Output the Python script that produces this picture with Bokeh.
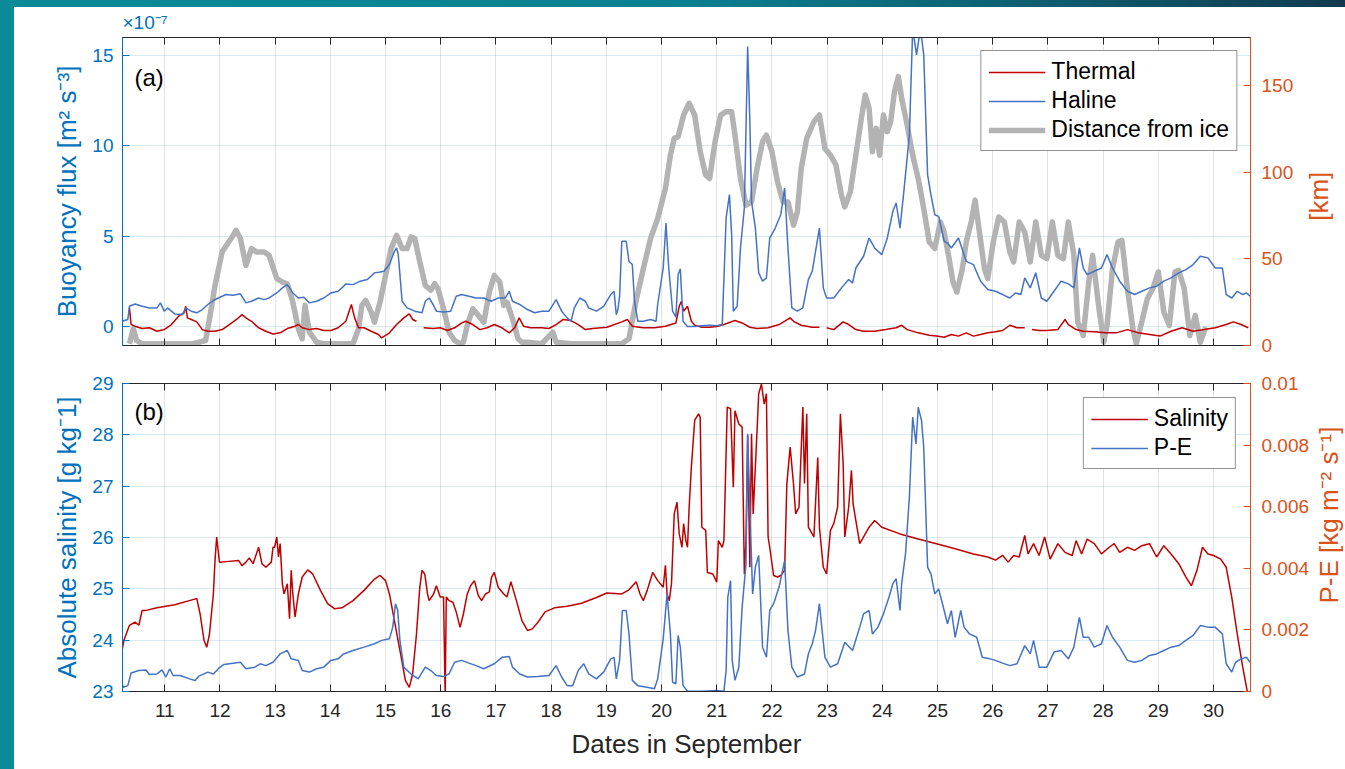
import math
import numpy as np
from bokeh.plotting import figure
from bokeh.models import (Range1d, LinearAxis, FixedTicker, Legend, LegendItem, Label, Title,
                          GlobalInlineStyleSheet, CustomLabelingPolicy)
from bokeh.core.properties import value
from bokeh.layouts import column, row
from bokeh.embed import file_html
from bokeh.resources import INLINE

NaN = float("nan")

# ---------------- data ----------------
# day of September, buoyancy flux in units of 1e-7 m^2 s^-3
thermal = [(10.36, 1.03), (10.39, 0.11), (10.46, 0.02), (10.59, -0.11), (10.72, -0.07), (10.86, -0.26),
           (10.99, -0.17), (11.12, 0.11), (11.25, 0.57), (11.35, 0.76), (11.38, 1.12), (11.41, 0.48),
           (11.48, 0.39), (11.58, 0.26), (11.68, -0.17), (11.78, -0.26), (11.91, -0.26), (12.04, -0.17),
           (12.17, 0.11), (12.30, 0.39), (12.40, 0.66), (12.47, 0.48), (12.57, 0.29), (12.70, -0.07),
           (12.83, -0.26), (12.96, -0.41), (13.09, -0.35), (13.22, -0.11), (13.36, 0.02), (13.42, 0.11),
           (13.49, -0.07), (13.62, -0.17), (13.75, -0.11), (13.88, -0.22), (14.01, -0.22), (14.14, -0.07),
           (14.28, 0.29), (14.38, 1.22), (14.44, 0.48), (14.51, -0.07), (14.61, -0.07), (14.74, -0.26),
           (14.87, -0.44), (14.93, -0.63), (15.07, -0.35), (15.20, 0.11), (15.33, 0.48), (15.43, 0.70),
           (15.49, 0.39), (15.56, 0.29), (15.62, NaN), (15.69, -0.07), (15.86, -0.11), (15.99, -0.07),
           (16.12, -0.22), (16.25, -0.07), (16.38, 0.20), (16.45, 0.29), (16.58, 0.11), (16.71, -0.17),
           (16.84, -0.07), (16.97, 0.11), (17.11, -0.07), (17.24, -0.35), (17.34, -0.07), (17.42, 0.48),
           (17.50, 0.02), (17.63, -0.07), (17.83, -0.07), (17.96, -0.11), (18.09, 0.11), (18.22, 0.39),
           (18.36, 0.33), (18.49, 0.11), (18.62, -0.17), (18.75, -0.11), (19.01, -0.04), (19.28, 0.26),
           (19.38, 0.39), (19.47, 0.02), (19.67, -0.07), (19.87, -0.07), (20.07, 0.02), (20.26, 0.20),
           (20.32, 1.12), (20.36, 1.40), (20.40, 0.85), (20.47, 1.12), (20.54, 0.29), (20.60, 0.07),
           (20.73, -0.04), (20.87, -0.04), (21.00, 0.0), (21.13, 0.11), (21.33, 0.33), (21.46, 0.20),
           (21.60, -0.04), (21.73, -0.11), (21.93, -0.07), (22.13, 0.11), (22.33, 0.48), (22.39, 0.29),
           (22.53, 0.07), (22.73, -0.04), (22.86, -0.04), (22.92, NaN), (22.99, -0.07), (23.12, -0.17),
           (23.29, 0.26), (23.39, 0.11), (23.52, -0.17), (23.66, -0.26), (23.86, -0.26), (24.06, -0.17),
           (24.25, -0.07), (24.35, 0.07), (24.45, -0.17), (24.65, -0.35), (24.85, -0.48), (24.98, -0.53),
           (25.12, -0.59), (25.25, -0.44), (25.38, -0.53), (25.52, -0.35), (25.65, -0.53), (25.78, -0.44),
           (25.91, -0.35), (26.05, -0.29), (26.18, -0.22), (26.31, 0.07), (26.44, -0.07), (26.58, -0.07),
           (26.64, NaN), (26.71, -0.17), (26.84, -0.22), (26.98, -0.22), (27.18, -0.17), (27.31, 0.39),
           (27.37, 0.11), (27.51, -0.17), (27.64, -0.26), (27.84, -0.29), (28.04, -0.35), (28.24, -0.35),
           (28.44, -0.17), (28.64, -0.35), (28.84, -0.44), (29.03, -0.53), (29.23, -0.26), (29.43, -0.07),
           (29.63, -0.26), (29.83, -0.17), (30.03, -0.07), (30.23, 0.11), (30.36, 0.26), (30.50, 0.11),
           (30.63, -0.07)]

haline = [(10.23, 0.29), (10.33, 0.39), (10.36, 1.12), (10.46, 1.25), (10.59, 1.12), (10.72, 1.03),
          (10.86, 1.03), (10.92, 1.31), (10.99, 0.85), (11.05, 1.03), (11.12, 0.85), (11.18, 0.70),
          (11.32, 0.66), (11.38, 1.03), (11.48, 0.85), (11.58, 0.76), (11.68, 0.94), (11.78, 1.22),
          (11.88, 1.44), (11.97, 1.58), (12.11, 1.77), (12.24, 1.73), (12.37, 1.81), (12.47, 1.31),
          (12.57, 1.40), (12.70, 1.58), (12.80, 1.49), (12.89, 1.58), (13.03, 1.86), (13.13, 2.14),
          (13.22, 2.32), (13.32, 1.86), (13.42, 1.58), (13.52, 1.62), (13.62, 1.31), (13.75, 1.40),
          (13.88, 1.58), (14.01, 1.86), (14.14, 1.95), (14.21, 2.14), (14.28, 2.36), (14.41, 2.32),
          (14.54, 2.51), (14.67, 2.60), (14.80, 2.97), (14.90, 3.02), (14.97, 3.06), (15.07, 3.43),
          (15.16, 4.16), (15.20, 4.35), (15.23, 3.98), (15.26, 2.87), (15.30, 1.40), (15.39, 1.03),
          (15.53, 0.85), (15.66, 0.76), (15.72, 1.40), (15.79, 1.58), (15.86, 1.22), (15.92, 0.85),
          (16.05, 0.81), (16.18, 0.85), (16.28, 1.68), (16.38, 1.77), (16.51, 1.68), (16.64, 1.58),
          (16.78, 1.58), (16.91, 1.40), (17.04, 1.58), (17.17, 1.58), (17.24, 1.95), (17.30, 1.40),
          (17.43, 1.22), (17.57, 0.94), (17.70, 0.76), (17.83, 0.85), (17.96, 0.85), (18.09, 1.49),
          (18.19, 0.85), (18.29, 0.48), (18.36, 0.29), (18.42, 1.03), (18.52, 1.58), (18.62, 1.40),
          (18.68, 1.03), (18.82, 0.85), (18.95, 1.12), (19.08, 1.77), (19.14, 1.95), (19.18, 0.66),
          (19.21, 0.94), (19.24, 1.68), (19.28, 4.72), (19.36, 4.72), (19.41, 3.61), (19.47, 3.43),
          (19.51, 1.40), (19.57, 0.29), (19.67, 0.29), (19.80, 0.39), (19.90, 0.29), (19.93, 1.22),
          (20.03, 3.24), (20.08, 5.73), (20.13, 3.24), (20.20, 0.85), (20.26, 0.52), (20.30, 2.87),
          (20.34, 3.20), (20.39, 0.29), (20.47, 0.0), (20.60, 0.0), (20.73, 0.04), (20.87, 0.07),
          (21.00, 0.04), (21.10, 0.11), (21.17, 6.01), (21.23, 7.30), (21.27, 5.09), (21.30, 0.85),
          (21.37, 1.12), (21.43, 4.35), (21.50, 6.56), (21.53, 10.98), (21.56, 15.50), (21.60, 11.35),
          (21.63, 6.93), (21.70, 5.45), (21.76, 2.97), (21.83, 2.51), (21.90, 2.69), (21.96, 4.90),
          (22.06, 5.45), (22.16, 6.19), (22.23, 7.67), (22.29, 4.35), (22.36, 1.03), (22.46, 0.85),
          (22.56, 1.03), (22.66, 2.60), (22.73, 3.06), (22.79, 4.16), (22.86, 5.45), (22.93, 2.14),
          (22.99, 1.58), (23.12, 1.58), (23.26, 2.14), (23.39, 2.60), (23.46, 2.41), (23.52, 3.24),
          (23.66, 3.89), (23.76, 4.90), (23.86, 4.35), (23.99, 3.98), (24.09, 4.90), (24.19, 6.38),
          (24.25, 6.84), (24.32, 5.45), (24.39, 7.48), (24.49, 10.61), (24.55, 16.5), (24.62, 15.04),
          (24.69, 16.5), (24.75, 15.04), (24.82, 8.40), (24.88, 7.30), (24.95, 6.19), (25.02, 6.10),
          (25.12, 4.72), (25.18, 4.62), (25.25, 4.35), (25.38, 4.90), (25.52, 3.61), (25.65, 3.43),
          (25.78, 2.51), (25.91, 2.05), (26.05, 1.95), (26.18, 1.77), (26.31, 1.58), (26.41, 1.86),
          (26.51, 1.77), (26.58, 2.69), (26.68, 2.14), (26.78, 2.97), (26.88, 1.58), (26.98, 1.40),
          (27.11, 1.95), (27.24, 2.51), (27.37, 2.36), (27.47, 2.14), (27.57, 4.35), (27.64, 3.24),
          (27.71, 2.87), (27.84, 3.06), (27.97, 3.24), (28.07, 3.98), (28.17, 3.24), (28.30, 2.51),
          (28.44, 1.95), (28.57, 1.77), (28.70, 1.95), (28.84, 2.14), (28.97, 2.23), (29.10, 2.51),
          (29.23, 2.69), (29.37, 2.97), (29.50, 3.15), (29.63, 3.43), (29.76, 3.89), (29.90, 3.80),
          (30.03, 3.24), (30.16, 3.24), (30.23, 1.77), (30.33, 1.58), (30.43, 1.95), (30.53, 1.77),
          (30.60, 1.86), (30.66, 1.68)]

# distance from the ice edge [km]
distance = [(10.36, 1.0), (10.43, 9.7), (10.49, 2.9), (10.59, 1.0), (10.86, 1.0), (11.18, 1.0), (11.51, 1.0),
            (11.74, 2.9), (11.81, 15.4), (11.91, 34.7), (12.04, 54.1), (12.14, 58.9), (12.24, 63.7),
            (12.29, 66.6), (12.37, 61.8), (12.47, 46.3), (12.57, 56.0), (12.66, 54.1), (12.80, 54.1),
            (12.89, 52.1), (13.03, 38.6), (13.13, 36.7), (13.22, 35.7), (13.32, 25.1), (13.42, 9.7),
            (13.49, 3.9), (13.54, 23.2), (13.62, 7.7), (13.75, 1.9), (13.88, 1.0), (14.14, 1.0), (14.41, 1.0),
            (14.51, 9.7), (14.57, 23.2), (14.64, 26.1), (14.74, 19.3), (14.80, 13.5), (14.90, 25.1),
            (15.00, 40.5), (15.10, 56.0), (15.20, 63.7), (15.30, 56.0), (15.39, 56.0), (15.46, 62.7),
            (15.53, 61.8), (15.62, 48.3), (15.72, 34.7), (15.82, 31.9), (15.89, 35.7), (15.95, 32.8),
            (16.05, 21.2), (16.15, 7.7), (16.25, 2.9), (16.35, 1.0), (16.41, 1.9), (16.48, 11.6),
            (16.58, 21.2), (16.68, 17.4), (16.78, 13.5), (16.88, 30.9), (16.97, 40.5), (17.07, 36.7),
            (17.14, 23.2), (17.20, 25.1), (17.30, 15.4), (17.40, 3.9), (17.47, 1.9), (17.57, 1.9),
            (17.83, 1.0), (18.03, 7.7), (18.09, 1.9), (18.36, 1.0), (18.75, 1.0), (19.01, 1.0), (19.28, 1.0),
            (19.41, 3.9), (19.54, 26.1), (19.67, 44.4), (19.80, 61.8), (19.93, 73.4), (20.07, 90.7),
            (20.16, 110.0), (20.23, 119.7), (20.30, 120.7), (20.40, 133.2), (20.50, 140.0), (20.60, 133.2),
            (20.70, 112.0), (20.80, 98.5), (20.87, 96.5), (20.97, 117.8), (21.07, 133.2), (21.17, 135.1),
            (21.27, 135.1), (21.33, 121.6), (21.43, 96.5), (21.53, 81.1), (21.63, 83.0), (21.73, 102.3),
            (21.83, 117.8), (21.90, 121.6), (22.00, 112.0), (22.10, 94.6), (22.20, 83.0), (22.29, 83.0),
            (22.39, 69.5), (22.46, 77.2), (22.53, 102.3), (22.63, 119.7), (22.76, 129.3), (22.86, 133.2),
            (22.96, 113.9), (23.06, 110.0), (23.16, 104.2), (23.26, 86.9), (23.32, 80.1), (23.42, 88.8),
            (23.52, 110.0), (23.62, 131.3), (23.69, 144.8), (23.76, 137.1), (23.82, 112.0), (23.89, 125.5),
            (23.95, 110.0), (24.02, 133.2), (24.09, 123.6), (24.15, 129.3), (24.22, 146.7), (24.29, 155.4),
            (24.35, 142.9), (24.45, 127.4), (24.55, 110.0), (24.65, 96.5), (24.75, 79.2), (24.85, 59.8),
            (24.95, 56.0), (25.05, 71.4), (25.12, 65.6), (25.22, 48.3), (25.28, 36.7), (25.35, 30.9),
            (25.45, 44.4), (25.52, 59.8), (25.61, 71.4), (25.68, 84.0), (25.75, 67.6), (25.85, 44.4),
            (25.91, 38.6), (26.01, 59.8), (26.11, 74.3), (26.21, 71.4), (26.31, 54.1), (26.38, 48.3),
            (26.48, 71.4), (26.58, 65.6), (26.68, 48.3), (26.78, 71.4), (26.88, 52.1), (26.98, 50.2),
            (27.08, 71.4), (27.18, 52.1), (27.28, 50.2), (27.37, 71.4), (27.47, 52.1), (27.54, 13.5),
            (27.64, 5.8), (27.74, 36.7), (27.81, 52.1), (27.91, 25.1), (28.01, 1.9), (28.07, 11.6),
            (28.17, 44.4), (28.27, 59.8), (28.34, 60.8), (28.44, 32.8), (28.54, 9.7), (28.60, 1.0),
            (28.70, 13.5), (28.80, 27.0), (28.90, 32.8), (29.00, 42.5), (29.10, 19.3), (29.20, 11.6),
            (29.30, 42.5), (29.37, 43.4), (29.47, 32.8), (29.57, 5.8), (29.67, 17.4), (29.76, 1.9),
            (29.86, 10.6)]

# absolute salinity [g kg^-1]
salinity = [(10.20, 23.64), (10.26, 24.0), (10.36, 24.29), (10.46, 24.35), (10.53, 24.29), (10.59, 24.58),
            (10.66, 24.58), (10.86, 24.63), (11.18, 24.69), (11.51, 24.79), (11.58, 24.81), (11.64, 24.51),
            (11.71, 24.0), (11.76, 23.86), (11.81, 24.12), (11.88, 24.90), (11.91, 25.55), (11.94, 26.01),
            (11.99, 25.52), (12.11, 25.53), (12.34, 25.55), (12.40, 25.45), (12.47, 25.52), (12.53, 25.60),
            (12.60, 25.49), (12.70, 25.81), (12.76, 25.49), (12.83, 25.42), (12.93, 25.52), (12.96, 25.81),
            (12.99, 25.81), (13.03, 26.01), (13.06, 25.62), (13.09, 25.88), (13.13, 25.10), (13.16, 24.90),
            (13.22, 25.10), (13.26, 24.42), (13.29, 25.36), (13.32, 24.90), (13.36, 24.45), (13.42, 24.90),
            (13.49, 25.23), (13.59, 25.37), (13.68, 25.29), (13.82, 24.97), (13.95, 24.71), (14.08, 24.61),
            (14.21, 24.63), (14.41, 24.77), (14.61, 24.97), (14.80, 25.19), (14.90, 25.26), (15.00, 25.16),
            (15.07, 24.90), (15.16, 24.38), (15.26, 23.80), (15.36, 23.21), (15.43, 23.08), (15.49, 23.34),
            (15.56, 24.12), (15.62, 25.03), (15.66, 25.36), (15.71, 25.29), (15.76, 24.90), (15.79, 24.77),
            (15.87, 24.90), (15.92, 25.06), (15.99, 24.84), (16.05, 24.84), (16.08, 22.9), (16.10, 24.84),
            (16.15, 24.77), (16.22, 24.74), (16.28, 24.55), (16.35, 24.25), (16.41, 24.51), (16.48, 24.90),
            (16.54, 25.06), (16.61, 25.16), (16.68, 24.87), (16.74, 24.77), (16.81, 24.90), (16.88, 24.94),
            (16.92, 25.23), (16.97, 25.32), (17.04, 25.03), (17.14, 24.90), (17.20, 24.84), (17.27, 25.14),
            (17.37, 24.77), (17.47, 24.38), (17.57, 24.19), (17.66, 24.22), (17.76, 24.35), (17.89, 24.55),
            (18.06, 24.63), (18.29, 24.66), (18.55, 24.72), (18.82, 24.83), (19.01, 24.92), (19.28, 24.90),
            (19.41, 24.98), (19.54, 25.14), (19.61, 24.90), (19.67, 24.77), (19.74, 24.97), (19.84, 25.32),
            (19.93, 25.16), (20.03, 25.03), (20.07, 25.46), (20.10, 24.90), (20.14, 24.77), (20.18, 25.10),
            (20.23, 26.46), (20.28, 26.69), (20.32, 26.07), (20.37, 25.81), (20.40, 26.27), (20.44, 25.94),
            (20.47, 25.81), (20.50, 26.59), (20.54, 27.37), (20.60, 28.28), (20.67, 28.41), (20.70, 28.34),
            (20.73, 26.20), (20.80, 26.14), (20.83, 25.32), (20.93, 25.29), (21.00, 25.13), (21.03, 25.94),
            (21.10, 25.81), (21.13, 25.94), (21.19, 28.54), (21.25, 28.51), (21.30, 26.98), (21.33, 28.47),
            (21.40, 28.21), (21.46, 28.15), (21.50, 25.29), (21.53, 25.94), (21.56, 27.99), (21.60, 25.42),
            (21.63, 28.02), (21.66, 26.46), (21.73, 28.08), (21.76, 28.80), (21.81, 28.99), (21.86, 28.60),
            (21.90, 28.80), (21.93, 26.01), (21.96, 25.81), (22.03, 25.26), (22.10, 25.23), (22.16, 25.26),
            (22.23, 25.36), (22.27, 27.05), (22.33, 27.76), (22.39, 27.05), (22.43, 26.46), (22.49, 26.59),
            (22.56, 28.54), (22.59, 27.05), (22.63, 28.41), (22.66, 26.20), (22.76, 26.01), (22.83, 27.56),
            (22.86, 26.20), (22.93, 25.42), (22.99, 25.29), (23.06, 26.14), (23.12, 26.27), (23.19, 26.59),
            (23.24, 28.41), (23.29, 27.44), (23.32, 26.01), (23.39, 26.59), (23.44, 27.31), (23.47, 26.66),
            (23.52, 26.33), (23.59, 25.88), (23.66, 26.01), (23.76, 26.20), (23.86, 26.33), (23.99, 26.20),
            (24.32, 26.07), (24.65, 25.97), (24.98, 25.88), (25.32, 25.78), (25.65, 25.68), (25.91, 25.62),
            (26.05, 25.56), (26.18, 25.65), (26.28, 25.52), (26.38, 25.65), (26.48, 25.62), (26.58, 26.04),
            (26.64, 25.68), (26.74, 25.88), (26.84, 25.65), (26.94, 26.01), (27.04, 25.58), (27.18, 25.88),
            (27.31, 25.71), (27.44, 25.65), (27.51, 25.94), (27.61, 25.68), (27.71, 25.97), (27.84, 25.88),
            (27.97, 25.68), (28.11, 25.81), (28.20, 25.88), (28.30, 25.71), (28.44, 25.81), (28.57, 25.75),
            (28.70, 25.84), (28.84, 25.88), (28.97, 25.62), (29.10, 25.84), (29.23, 25.68), (29.37, 25.49),
            (29.50, 25.23), (29.60, 25.06), (29.70, 25.36), (29.80, 25.81), (29.90, 25.68), (30.00, 25.65),
            (30.13, 25.58), (30.23, 25.42), (30.33, 24.84), (30.43, 24.12), (30.53, 23.47), (30.62, 22.95)]

# P-E in units of 1e-3 kg m^-2 s^-1
p_minus_e = [(10.20, 0.36), (10.25, 0.14), (10.33, 0.19), (10.39, 0.60), (10.53, 0.68), (10.66, 0.70),
             (10.72, 0.55), (10.86, 0.57), (10.95, 0.70), (11.02, 0.47), (11.09, 0.74), (11.15, 0.52),
             (11.28, 0.52), (11.45, 0.41), (11.55, 0.36), (11.61, 0.49), (11.78, 0.63), (11.88, 0.57),
             (11.97, 0.74), (12.07, 0.88), (12.24, 0.92), (12.37, 0.95), (12.47, 0.74), (12.63, 0.79),
             (12.73, 0.90), (12.83, 0.84), (12.96, 0.95), (13.09, 1.22), (13.22, 1.33), (13.29, 1.06),
             (13.42, 1.01), (13.49, 0.68), (13.62, 0.63), (13.75, 0.74), (13.88, 0.79), (14.01, 1.01),
             (14.14, 1.06), (14.24, 1.22), (14.41, 1.33), (14.61, 1.44), (14.80, 1.55), (14.93, 1.66),
             (15.07, 1.71), (15.13, 2.09), (15.18, 2.85), (15.22, 2.63), (15.26, 1.66), (15.33, 0.79),
             (15.46, 0.57), (15.59, 0.41), (15.72, 0.79), (15.82, 0.68), (15.92, 0.52), (16.05, 0.49),
             (16.15, 0.57), (16.25, 0.95), (16.38, 1.01), (16.51, 0.92), (16.64, 0.84), (16.78, 0.74),
             (16.97, 0.90), (17.11, 1.11), (17.24, 1.14), (17.30, 0.79), (17.43, 0.57), (17.57, 0.47),
             (17.76, 0.49), (17.96, 0.52), (18.09, 0.84), (18.19, 0.47), (18.29, 0.19), (18.39, 0.19),
             (18.49, 0.68), (18.59, 0.90), (18.68, 0.57), (18.82, 0.41), (18.95, 0.63), (19.08, 1.06),
             (19.14, 1.11), (19.18, 0.41), (19.24, 1.01), (19.29, 2.63), (19.36, 2.63), (19.41, 1.87),
             (19.47, 0.36), (19.57, 0.19), (19.74, 0.14), (19.87, 0.09), (19.93, 0.41), (20.03, 1.71),
             (20.10, 3.17), (20.16, 1.87), (20.20, 0.30), (20.26, 0.25), (20.30, 1.82), (20.34, 1.44),
             (20.39, 0.19), (20.47, 0.01), (20.73, 0.01), (21.00, 0.03), (21.13, 0.01), (21.17, 0.68),
             (21.20, 3.06), (21.25, 3.60), (21.28, 1.01), (21.33, 0.36), (21.40, 0.79), (21.46, 2.74),
             (21.53, 4.15), (21.56, 8.37), (21.60, 5.99), (21.65, 3.17), (21.70, 4.04), (21.76, 4.42),
             (21.83, 1.44), (21.90, 1.11), (21.96, 2.63), (22.03, 2.85), (22.13, 3.39), (22.23, 4.25),
             (22.29, 1.98), (22.36, 0.79), (22.46, 0.47), (22.59, 0.57), (22.66, 1.22), (22.73, 1.55),
             (22.79, 1.98), (22.86, 2.85), (22.89, 2.31), (22.96, 1.11), (23.06, 0.79), (23.19, 0.90),
             (23.32, 1.60), (23.46, 1.33), (23.59, 2.09), (23.66, 2.52), (23.76, 2.63), (23.82, 1.87),
             (23.92, 2.09), (24.02, 2.52), (24.12, 3.06), (24.19, 3.50), (24.25, 3.66), (24.32, 2.63),
             (24.35, 3.50), (24.42, 4.47), (24.49, 6.31), (24.55, 8.91), (24.61, 8.04), (24.65, 9.23),
             (24.71, 8.80), (24.75, 7.93), (24.82, 4.04), (24.88, 3.82), (24.95, 3.17), (25.02, 3.33),
             (25.12, 2.63), (25.18, 2.20), (25.25, 2.63), (25.32, 1.76), (25.42, 2.63), (25.48, 2.09),
             (25.58, 1.87), (25.71, 1.76), (25.81, 1.11), (25.95, 1.06), (26.05, 1.01), (26.18, 0.92),
             (26.31, 0.84), (26.44, 0.90), (26.58, 1.49), (26.68, 1.22), (26.74, 1.66), (26.84, 0.79),
             (26.98, 0.79), (27.11, 1.28), (27.24, 1.33), (27.37, 1.06), (27.47, 1.44), (27.57, 2.41),
             (27.64, 1.76), (27.74, 1.76), (27.84, 1.44), (27.97, 1.55), (28.07, 2.14), (28.17, 1.76),
             (28.30, 1.44), (28.44, 1.01), (28.57, 0.95), (28.70, 1.01), (28.84, 1.17), (28.97, 1.22),
             (29.10, 1.33), (29.23, 1.44), (29.37, 1.49), (29.50, 1.66), (29.63, 1.82), (29.76, 2.14),
             (29.90, 2.09), (30.03, 2.09), (30.16, 1.87), (30.23, 0.90), (30.33, 0.63), (30.40, 0.95),
             (30.50, 1.06), (30.60, 1.11), (30.66, 0.95)]

day_ticks = list(range(11, 31))
buoy_ticks = [0, 5, 10, 15]
km_ticks = [0, 50, 100, 150]
sal_ticks = [23, 24, 25, 26, 27, 28, 29]
pe_ticks = [0, 0.002, 0.004, 0.006, 0.008, 0.01]
pe_tick_labels = {0: "0", 0.002: "0.002", 0.004: "0.004", 0.006: "0.006", 0.008: "0.008", 0.01: "0.01"}
right_label_a = "[km]"
right_label_b = "P-E [kg m⁻² s⁻¹]"

# ---------------- styling ----------------
FONT = "Liberation Sans"
AX_BLUE = "#0072BD"
AX_ORANGE = "#D95319"
DARK = "#262626"
RED = "#C00000"
LBLUE = "#4472C4"
GRAY = "#B3B3B3"
TICK_FS = "19px"
LABEL_FS = "26px"

NO_LABELS = CustomLabelingPolicy(code="""
    for (const i of Array.from(indices)) { indices.unset(i) }
    return indices
""")


def split(pairs):
    xs = [a for a, b in pairs]
    ys = [b for a, b in pairs]
    return xs, ys


x_range = Range1d(10.234, 30.67)
LEFT_B = 108
FRAME_W = 1128


def make_fig(width, height, top, bottom, yr, show_x_labels):
    p = figure(width=width, height=height, x_range=x_range, y_range=yr,
               output_backend="svg", toolbar_location=None,
               min_border_left=LEFT_B, min_border_right=width - LEFT_B - FRAME_W,
               min_border_top=top, min_border_bottom=bottom)
    p.background_fill_color = "white"
    p.border_fill_color = "white"
    p.outline_line_color = DARK
    p.outline_line_width = 1
    p.xgrid.ticker = FixedTicker(ticks=day_ticks)
    p.xgrid.grid_line_color = DARK
    p.xgrid.grid_line_alpha = 0.13
    p.ygrid.grid_line_color = AX_BLUE
    p.ygrid.grid_line_alpha = 0.15
    xa = p.below[0]
    xa.ticker = FixedTicker(ticks=day_ticks)
    xa.major_tick_in = 7
    xa.major_tick_out = 0
    xa.minor_tick_line_color = None
    xa.axis_line_color = DARK
    xa.major_tick_line_color = DARK
    xa.major_label_text_color = DARK
    xa.major_label_text_font = FONT
    xa.major_label_text_font_size = TICK_FS
    xa.major_label_standoff = 12
    if not show_x_labels:
        xa.major_label_policy = NO_LABELS
        xa.major_label_text_font_size = "1px"
        xa.major_label_standoff = 0
    top_ax = LinearAxis(ticker=FixedTicker(ticks=day_ticks), major_tick_in=7, major_tick_out=0,
                        minor_tick_line_color=None, axis_line_color=DARK, major_tick_line_color=DARK,
                        major_label_policy=NO_LABELS, major_label_text_font_size="1px",
                        major_label_standoff=0)
    p.add_layout(top_ax, "above")
    ya = p.left[0]
    ya.major_tick_in = 7
    ya.major_tick_out = 0
    ya.minor_tick_line_color = None
    ya.axis_line_color = AX_BLUE
    ya.major_tick_line_color = AX_BLUE
    ya.major_label_text_color = AX_BLUE
    ya.major_label_text_font = FONT
    ya.major_label_text_font_size = TICK_FS
    ya.major_label_standoff = 9
    ya.axis_label_text_color = AX_BLUE
    ya.axis_label_text_font = FONT
    ya.axis_label_text_font_size = LABEL_FS
    ya.axis_label_text_font_style = "normal"
    ya.axis_label_standoff = 7
    return p, xa, ya


def right_axis(p, name, ticks, overrides=None):
    ax = LinearAxis(y_range_name=name, ticker=FixedTicker(ticks=ticks),
                    major_tick_in=7, major_tick_out=0, minor_tick_line_color=None,
                    axis_line_color=AX_ORANGE, major_tick_line_color=AX_ORANGE,
                    major_label_text_color=AX_ORANGE, major_label_text_font=FONT,
                    major_label_text_font_size=TICK_FS, major_label_standoff=11)
    if overrides:
        ax.major_label_overrides = overrides
    p.add_layout(ax, "right")
    return ax


def label_fig(width, height, text, xpos, ypos):
    # narrow strip holding the right-hand axis title, reading bottom to top
    q = figure(width=width, height=height, x_range=Range1d(0, 1), y_range=Range1d(0, 1),
               output_backend="svg", toolbar_location=None,
               x_axis_location=None, y_axis_location=None,
               min_border_left=0, min_border_right=0, min_border_top=0, min_border_bottom=0)
    q.grid.visible = False
    q.outline_line_color = None
    q.background_fill_color = "white"
    q.border_fill_color = "white"
    q.text(x=[xpos], y=[ypos], text=[text], angle=math.pi / 2, text_align="center",
           text_baseline="middle", text_color=AX_ORANGE, text_font=value(FONT),
           text_font_size=LABEL_FS)
    return q


def style_legend(lg, margin):
    lg.location = "top_right"
    lg.margin = margin
    lg.border_line_color = DARK
    lg.border_line_width = 1
    lg.background_fill_color = "white"
    lg.background_fill_alpha = 1.0
    lg.label_text_font = FONT
    lg.label_text_font_size = "23px"
    lg.label_text_color = "black"
    lg.glyph_width = 57
    lg.glyph_height = 26
    lg.label_height = 26
    lg.label_standoff = 6
    lg.padding = 7
    lg.spacing = 2


TOTAL_W = 1331
WA = 45   # width of the strip for the top right-hand title
WB = 33   # width of the strip for the bottom right-hand title
HA = 357
HB = 405

# ---------------- panel (a) ----------------
pa, pa_x, pa_y = make_fig(TOTAL_W - WA, HA, 30, 19, Range1d(-1.05, 16.0), False)
pa_y.ticker = FixedTicker(ticks=buoy_ticks)
pa_y.axis_label = "Buoyancy flux [m² s⁻³]"
pa.extra_y_ranges = {"km": Range1d(0, 178)}
right_axis(pa, "km", km_ticks)

pa.add_layout(Title(text="×10⁻⁷", align="left", text_font=FONT, text_font_size="19px",
                    text_font_style="normal", text_color=AX_BLUE, standoff=2), "above")

dx, dy = split(distance)
r_dist = pa.line(dx, dy, y_range_name="km", line_color=GRAY, line_width=5.5, line_join="round")
tx, ty = split(thermal)
r_th = pa.line(tx, ty, line_color=RED, line_width=1.5)
hx, hy = split(haline)
r_ha = pa.line(hx, hy, line_color=LBLUE, line_width=1.5)

lga = Legend(items=[LegendItem(label="Thermal", renderers=[r_th]),
                    LegendItem(label="Haline", renderers=[r_ha]),
                    LegendItem(label="Distance from ice", renderers=[r_dist])])
style_legend(lga, 13)
pa.add_layout(lga)

pa.add_layout(Label(x=10.45, y=13.8, text="(a)", text_font=FONT, text_font_size="24px",
                    text_baseline="middle", text_color="black"))

# centre of frame (a) lies 184 px below the strip top
la = label_fig(WA, HA, right_label_a, 0.40, 1 - 184 / HA)

# ---------------- panel (b) ----------------
pb, pb_x, pb_y = make_fig(TOTAL_W - WB, HB, 19, 78, Range1d(23, 29), True)
pb_y.ticker = FixedTicker(ticks=sal_ticks)
pb_y.axis_label = "Absolute salinity [g kg⁻1]"
pb_x.axis_label = "Dates in September"
pb_x.axis_label_text_font = FONT
pb_x.axis_label_text_font_size = LABEL_FS
pb_x.axis_label_text_font_style = "normal"
pb_x.axis_label_text_color = DARK
pb_x.axis_label_standoff = 9
pb.extra_y_ranges = {"pe": Range1d(0, 0.01)}
right_axis(pb, "pe", pe_ticks, overrides=pe_tick_labels)

sx, sy = split(salinity)
r_sal = pb.line(sx, sy, line_color=RED, line_width=1.5)
px_, py_ = split(p_minus_e)
r_pe = pb.line(px_, list(np.array(py_) * 1e-3), y_range_name="pe", line_color=LBLUE, line_width=1.5)

lgb = Legend(items=[LegendItem(label="Salinity", renderers=[r_sal]),
                    LegendItem(label="P-E", renderers=[r_pe])])
style_legend(lgb, 14)
pb.add_layout(lgb)

pb.add_layout(Label(x=10.45, y=28.45, text="(b)", text_font=FONT, text_font_size="24px",
                    text_baseline="middle", text_color="black"))

# centre of frame (b) lies 173 px below the strip top
lb = label_fig(WB, HB, right_label_b, 0.50, 1 - 173 / HB)

page_css = GlobalInlineStyleSheet(css=(
    "html, body { overflow: hidden !important; } "
    "body { margin: 0 !important; padding: 7px 0 0 14px !important; "
    "background: linear-gradient(90deg, #0a8b97 0%, #0a8190 50%, #0e5a6c 80%, #123a4e 100%) !important; }"
))

white = {"background-color": "white"}
layout = column(row(pa, la, styles=white), row(pb, lb, styles=white),
                styles=white, stylesheets=[page_css])

open("out.html", "w").write(file_html(layout, INLINE))
